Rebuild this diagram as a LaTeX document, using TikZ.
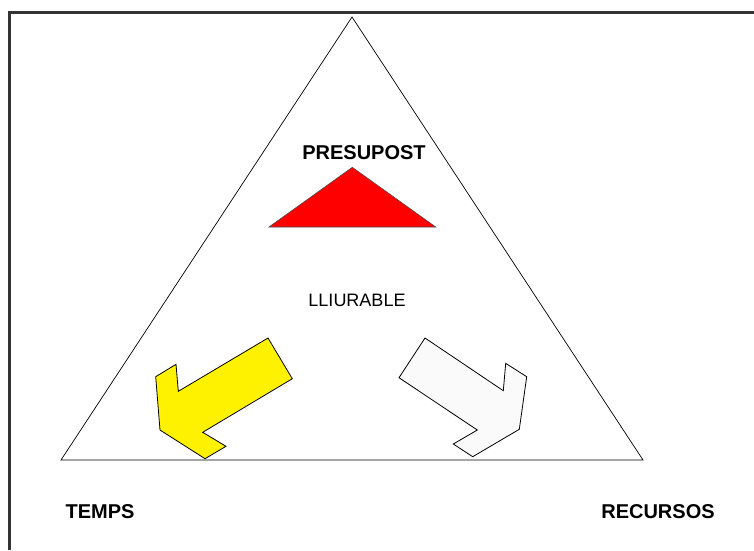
\documentclass[tikz,border=0pt]{standalone}
\usepackage{fontspec}
\setmainfont{Liberation Sans}
\begin{document}
\begin{tikzpicture}[x=1pt,y=-1pt,
  outline/.style={draw=black,line width=0.8pt,line join=miter},
  boldlabel/.style={font=\fontsize{20}{24}\selectfont\bfseries,inner sep=0pt},
  plainlabel/.style={font=\fontsize{18}{22}\selectfont,inner sep=0pt}]
\useasboundingbox (0,0) rectangle (754,550);
% page frame (only top and left edges fall inside the picture)
\draw[line width=2.2pt,black!80] (9.5,550) -- (9.5,12.5) -- (754,12.5);
% the main triangle
\draw[line width=0.7pt] (352,17) -- (643,460) -- (61,460) -- cycle;
% red triangle under PRESUPOST
\filldraw[fill=red,draw=black!70,line width=0.6pt] (352.3,167.3) -- (435.7,227) -- (269,227) -- cycle;
% yellow arrow towards TEMPS
\filldraw[outline,fill=yellow]
  (268,338) -- (292.3,378.7) -- (202.7,432.3) -- (226,446.3) -- (205,458.7)
  -- (160,430) -- (155.7,376.7) -- (176,364.3) -- (178.3,391.3) -- cycle;
% light arrow towards RECURSOS
\filldraw[outline,fill=black!2]
  (425,338) -- (503.3,390.7) -- (505.7,363.3) -- (526.7,376.7) -- (519.3,429.3)
  -- (472.7,456.7) -- (453.3,444) -- (477.3,430) -- (399,377.7) -- cycle;
% labels
\node[boldlabel] (presupost) at (364,153) {PRESUPOST};
\node[plainlabel] (lliurable) at (357,300) {LLIURABLE};
\node[boldlabel] (temps) at (100,512) {TEMPS};
\node[boldlabel] (recursos) at (658,512) {RECURSOS};
\end{tikzpicture}
\end{document}
